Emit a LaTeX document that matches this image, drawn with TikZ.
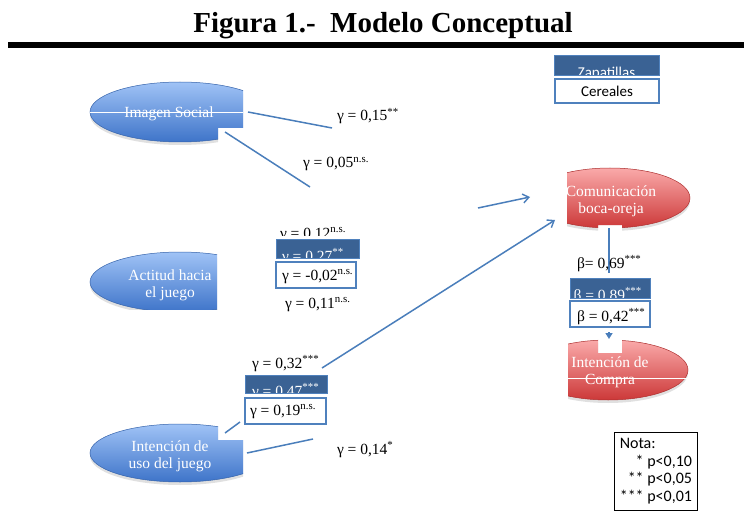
\documentclass[tikz,border=0pt]{standalone}
\usepackage{fontspec}
\setmainfont{Liberation Serif}
\newfontfamily\calibrifont{Carlito}
\usetikzlibrary{arrows.meta,shapes.geometric}

\definecolor{linkblue}{RGB}{74,126,187}
\definecolor{boxblue}{RGB}{79,129,189}
\definecolor{darkfill}{RGB}{58,98,148}
\definecolor{bubbleblueT}{RGB}{160,195,246}
\definecolor{bubbleblueB}{RGB}{62,116,201}
\definecolor{bubbleredT}{RGB}{250,170,170}
\definecolor{bubbleredB}{RGB}{204,56,56}

\tikzset{
  conn/.style={draw=linkblue, line width=1.5pt},
  opentip/.style={-{Straight Barb[length=6pt,width=9pt,line width=1.4pt]}},
  filltip/.style={-{Triangle[length=6pt,width=7pt]}},
  plaintext/.style={draw=none, fill=none, minimum width=0pt, minimum height=0pt,
    inner sep=0pt, outer sep=0pt, line width=0.4pt},
  coef/.style={plaintext, font=\fontsize{15.5}{18}\selectfont, anchor=base west},
  bubbletext/.style={font=\fontsize{15.5}{17}\selectfont, text=white, align=center, inner sep=0pt},
  bubbleshadow/.style={fill=black, opacity=0.12},
  bluebubble/.style={ellipse, minimum width=180pt, minimum height=60pt, inner sep=0pt,
    top color=bubbleblueT, bottom color=bubbleblueB, draw=bubbleblueB!85!black, line width=0.5pt},
  redbubble/.style={ellipse, minimum width=160pt, minimum height=60pt, inner sep=0pt,
    top color=bubbleredT, bottom color=bubbleredB, draw=bubbleredB!85!black, line width=0.5pt},
  darkbox/.style={rectangle, fill=darkfill, draw=boxblue, line width=0.6pt, inner sep=0pt,
    outer sep=0pt, anchor=north west},
  whitebox/.style={rectangle, fill=white, draw=boxblue, line width=1.2pt, inner sep=0pt,
    outer sep=0pt, anchor=north west},
  glitch/.style={draw=white, line width=1pt},
}

\begin{document}
\begin{tikzpicture}[x=1pt,y=-1pt]
\useasboundingbox (0,0) rectangle (744,513);
\clip (0,0) rectangle (744,513);

% heading and rule
\node[font=\bfseries\fontsize{29}{34}\selectfont, anchor=base, inner sep=0pt] (title) at (383,33) {Figura 1.-~ Modelo Conceptual};
\fill[black] (8,42) rectangle (744,48);

% ---------- exogenous constructs (blue) ----------
\begin{scope}
  \clip (80,70) -- (243,70) -- (243,128) -- (218,128) -- (218,160) -- (80,160) -- cycle;
  \fill[bubbleshadow] (180,115) ellipse [x radius=90, y radius=30];
  \node[bluebubble] (imagen) at (180,112) {};
\end{scope}
\node[bubbletext, anchor=base] (imagen-txt) at (169,118) {Imagen Social};
\draw[glitch] (90,113) -- (243,113);

\begin{scope}
  \clip (80,240) rectangle (217,309);
  \fill[bubbleshadow] (180,285) ellipse [x radius=90, y radius=30];
  \node[bluebubble] (actitud) at (180,282) {};
\end{scope}
\node[bubbletext] (actitud-txt) at (170,285) {Actitud hacia\\el juego};

\begin{scope}
  \clip (80,415) -- (218,415) -- (218,440) -- (243,440) -- (243,500) -- (80,500) -- cycle;
  \fill[bubbleshadow] (180,456) ellipse [x radius=90, y radius=29];
  \node[bluebubble, minimum height=58pt] (uso) at (180,453) {};
\end{scope}
\node[bubbletext] (uso-txt) at (170,456) {Intención de\\uso del juego};

% ---------- endogenous constructs (red) ----------
\begin{scope}
  \clip (567,160) -- (700,160) -- (700,240) -- (622,240) -- (622,225) -- (598,225) -- (598,240) -- (567,240) -- cycle;
  \fill[bubbleshadow] (610,201) ellipse [x radius=80, y radius=30];
  \node[redbubble] (boca) at (610,198) {};
  \node[bubbletext] (boca-txt) at (611,201) {Comunicación\\boca-oreja};
\end{scope}

\begin{scope}
  \clip (568,330) -- (598,330) -- (598,353) -- (622,353) -- (622,330) -- (700,330) -- (700,412) -- (568,412) -- cycle;
  \fill[bubbleshadow] (608,373) ellipse [x radius=80, y radius=30];
  \node[redbubble] (compra) at (608,370) {};
\end{scope}
\node[bubbletext] (compra-txt) at (610,372) {Intención de\\Compra};
\draw[glitch] (568,378) -- (688,378);

% ---------- paths ----------
\coordinate (imagen-a) at (248,112);  \coordinate (imagen-a-end) at (332,128);
\coordinate (imagen-b) at (225,132);  \coordinate (imagen-b-end) at (310,187);
\coordinate (mid-a)    at (478,208);  \coordinate (boca-in-a)    at (530,197);
\coordinate (uso-a)    at (322,368);  \coordinate (boca-in-b)    at (555,220);
\coordinate (uso-b)    at (225,433);  \coordinate (uso-b-end)    at (240,422);
\coordinate (uso-c)    at (247,453);  \coordinate (uso-c-end)    at (313,439);
\coordinate (boca-out) at (609,228);  \coordinate (compra-in)    at (609,339);

\draw[conn] (imagen-a) -- (imagen-a-end);
\draw[conn] (imagen-b) -- (imagen-b-end);
\draw[conn, opentip] (mid-a) -- (boca-in-a);
\draw[conn, opentip] (uso-a) -- (boca-in-b);
\draw[conn] (uso-b) -- (uso-b-end);
\draw[conn] (uso-c) -- (uso-c-end);
\draw[conn, filltip] (boca-out) -- (compra-in);
\fill[white] (565,273) rectangle (655,332);

% ---------- coefficients ----------
\node[coef] (g15) at (337,121) {γ = 0,15\textsuperscript{**}};
\node[coef] (g05) at (303,168) {γ = 0,05\textsuperscript{n.s.}};

\begin{scope}
  \clip (270,215) rectangle (370,235);
  \node[coef] (g12) at (280,238) {γ = 0,12\textsuperscript{n.s.}};
\end{scope}
\node[darkbox, minimum width=83pt, minimum height=19pt,
  path picture={\node[coef, text=white] at ([xshift=6pt,yshift=-3pt]path picture bounding box.south west) {γ = 0,27\textsuperscript{**}};}]
  (g27) at (276,239) {};
\node[whitebox, minimum width=80pt, minimum height=26pt,
  path picture={\node[coef] at ([xshift=6pt,yshift=8pt]path picture bounding box.south west) {γ = -0,02\textsuperscript{n.s.}};}]
  (g02) at (276,262) {};
\node[coef] (g11) at (285,308) {γ = 0,11\textsuperscript{n.s.}};

\node[coef] (g32) at (252,368) {γ = 0,32\textsuperscript{***}};
\node[darkbox, minimum width=82pt, minimum height=18pt,
  path picture={\node[coef, text=white] at ([xshift=7pt,yshift=-3pt]path picture bounding box.south west) {γ = 0,47\textsuperscript{***}};}]
  (g47) at (245,375) {};
\node[whitebox, minimum width=81pt, minimum height=26pt,
  path picture={\node[coef] at ([xshift=5pt,yshift=9pt]path picture bounding box.south west) {γ = 0,19\textsuperscript{n.s.}};}]
  (g19) at (245,398) {};
\node[coef] (g14) at (337,454) {γ = 0,14\textsuperscript{*}};

\node[coef] (b69) at (577,268) {β= 0,69\textsuperscript{***}};
\node[darkbox, minimum width=80pt, minimum height=20pt,
  path picture={\node[coef, text=white] at ([xshift=3.5pt,yshift=-2pt]path picture bounding box.south west) {β = 0,89\textsuperscript{***}};}]
  (b89) at (570,278) {};
\node[whitebox, minimum width=80pt, minimum height=26pt,
  path picture={\node[coef] at ([xshift=7pt,yshift=6pt]path picture bounding box.south west) {β = 0,42\textsuperscript{***}};}]
  (b42) at (570,301) {};

% ---------- sample legend ----------
\node[darkbox, minimum width=105pt, minimum height=20pt,
  path picture={\node[plaintext, font=\calibrifont\fontsize{15}{18}\selectfont, text=white, anchor=base] at ([yshift=-3pt]path picture bounding box.south) {Zapatillas};}]
  (zapatillas) at (554,55) {};
\node[whitebox, minimum width=104pt, minimum height=24pt,
  path picture={\node[plaintext, font=\calibrifont\fontsize{15}{18}\selectfont, anchor=base] at ([yshift=6pt]path picture bounding box.south) {Cereales};}]
  (cereales) at (555,79) {};

% ---------- significance note ----------
\node[draw=black, line width=0.8pt, anchor=north west, inner xsep=5pt, inner ysep=4pt,
  font=\calibrifont\fontsize{16}{17.5}\selectfont, minimum width=83pt] (nota) at (614,432)
  {\begin{tabular}{@{}r@{}}\multicolumn{1}{@{}l@{}}{Nota:}\\ {*} p<0,10\\ {**} p<0,05\\ {***} p<0,01\\ \end{tabular}};
\end{tikzpicture}
\end{document}
